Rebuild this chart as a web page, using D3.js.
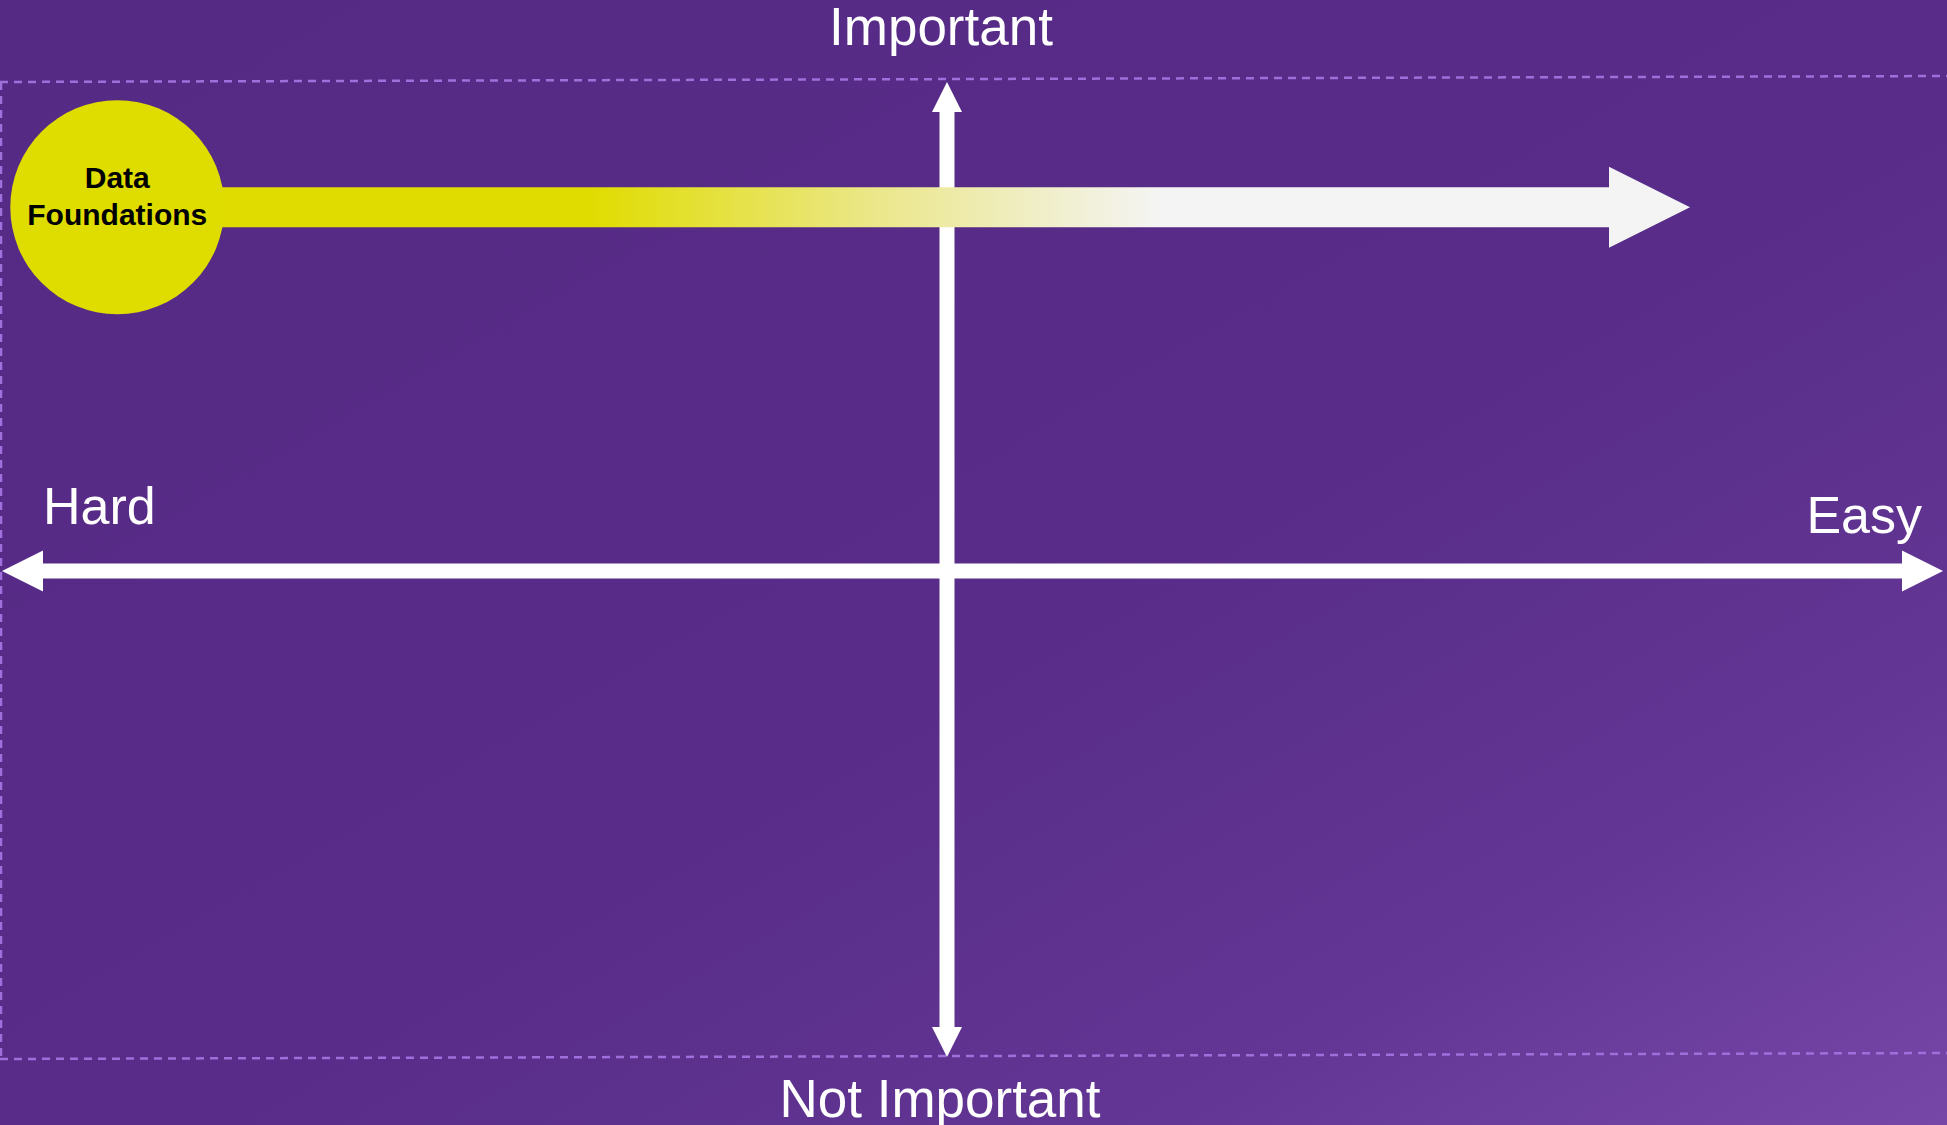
<!DOCTYPE html>
<html>
<head>
<meta charset="utf-8">
<script src="https://cdn.jsdelivr.net/npm/d3@7"></script>
<style>
  html, body { margin: 0; padding: 0; overflow: hidden; }
  svg { display: block; }
</style>
</head>
<body>
<svg id="chart"></svg>
<script>
// axis labels: [top, bottom, left, right]
const axisLabels = ['Important', 'Not Important', 'Hard', 'Easy'];
// initiatives on the matrix: ease (-1 hard .. 1 easy), importance (-1 .. 1)
const items = ['Data Foundations'];
const itemEase = [-0.878];
const itemImportance = [0.744];
const itemTargetEase = [0.746];

var width = 1947,
  height = 1125;

const svg = d3.select('#chart').attr('width', width).attr('height', height);

const defs = svg.append('defs');

// background gradient
const bg = defs.append('linearGradient').attr('id', 'bg')
  .attr('x1', 0).attr('y1', 0).attr('x2', 1).attr('y2', 1);
bg.append('stop').attr('offset', '0%').attr('stop-color', '#552a85');
bg.append('stop').attr('offset', '55%').attr('stop-color', '#582c88');
bg.append('stop').attr('offset', '80%').attr('stop-color', '#633695');
bg.append('stop').attr('offset', '100%').attr('stop-color', '#7747a8');

svg.append('rect').attr('width', width).attr('height', height).attr('fill', 'url(#bg)');

// scales: piecewise so the axes cross where the picture has them
const x = d3.scaleLinear().domain([-1, 0, 1]).range([2, 947, 1943]);
const y = d3.scaleLinear().domain([-1, 0, 1]).range([1057, 571, 82]);

// dashed frame (slightly tilted like the slide)
const frame = svg.append('g')
  .attr('stroke', '#9f70db')
  .attr('stroke-width', 2.5)
  .attr('stroke-dasharray', '8,6')
  .attr('fill', 'none');
frame.append('line').attr('x1', 0).attr('y1', y(1)).attr('x2', width).attr('y2', y(1) - 6);
frame.append('line').attr('x1', 0).attr('y1', y(-1) + 2).attr('x2', width).attr('y2', y(-1) - 4);
frame.append('line').attr('x1', 1).attr('y1', y(1)).attr('x2', 1).attr('y2', y(-1) + 2);

// axes as double headed arrows
const shaft = 15;
const vHead = 30, hHead = 41;
const cx = x(0), cy = y(0);

const axes = svg.append('g').attr('fill', '#ffffff');
// vertical
axes.append('rect')
  .attr('x', cx - shaft / 2).attr('y', y(1) + vHead - 1)
  .attr('width', shaft).attr('height', y(-1) - y(1) - 2 * vHead + 2);
axes.append('path').attr('d', d3.line()([
  [cx, y(1)], [cx + vHead / 2, y(1) + vHead], [cx - vHead / 2, y(1) + vHead]
]));
axes.append('path').attr('d', d3.line()([
  [cx, y(-1)], [cx + vHead / 2, y(-1) - vHead], [cx - vHead / 2, y(-1) - vHead]
]));
// horizontal
axes.append('rect')
  .attr('x', x(-1) + hHead - 1).attr('y', cy - shaft / 2)
  .attr('width', x(1) - x(-1) - 2 * hHead + 2).attr('height', shaft);
axes.append('path').attr('d', d3.line()([
  [x(-1), cy], [x(-1) + hHead, cy - hHead / 2], [x(-1) + hHead, cy + hHead / 2]
]));
axes.append('path').attr('d', d3.line()([
  [x(1), cy], [x(1) - hHead, cy - hHead / 2], [x(1) - hHead, cy + hHead / 2]
]));

// axis labels
const labels = svg.append('g')
  .attr('fill', '#ffffff')
  .style('font-family', '"Liberation Sans", Arial, sans-serif')
  .style('font-size', '53px');
labels.append('text').attr('x', cx - 6).attr('y', 45).attr('text-anchor', 'middle').text(axisLabels[0]);
labels.append('text').attr('x', cx - 7).attr('y', 1117).attr('text-anchor', 'middle').text(axisLabels[1]);
labels.append('text').attr('x', 43).attr('y', 524).style('font-size', '52px').text(axisLabels[2]);
labels.append('text').attr('x', 1922).attr('y', 533).attr('text-anchor', 'end').style('font-size', '52px').text(axisLabels[3]);

// item arrows
const grad = defs.append('linearGradient').attr('id', 'itemGrad')
  .attr('gradientUnits', 'userSpaceOnUse')
  .attr('x1', 590).attr('y1', 0).attr('x2', 1160).attr('y2', 0);
grad.append('stop').attr('offset', '0%').attr('stop-color', '#e0dc00');
grad.append('stop').attr('offset', '50%').attr('stop-color', '#ebe78a');
grad.append('stop').attr('offset', '100%').attr('stop-color', '#f4f4f4');

const barH = 40, headW = 81, headL = 81, r = 107;

const item = svg.selectAll('g.item')
  .data(items)
  .enter()
  .append('g')
  .attr('class', 'item');

item.append('path')
  .attr('fill', 'url(#itemGrad)')
  .attr('d', function (d, i) {
    const sx = x(itemEase[i]), ex = x(itemTargetEase[i]), yy = y(itemImportance[i]);
    return d3.line()([
      [sx, yy - barH / 2], [ex - headL, yy - barH / 2], [ex - headL, yy - headW / 2],
      [ex, yy], [ex - headL, yy + headW / 2], [ex - headL, yy + barH / 2], [sx, yy + barH / 2]
    ]) + 'Z';
  });

item.append('circle')
  .attr('cx', (d, i) => x(itemEase[i]))
  .attr('cy', (d, i) => y(itemImportance[i]))
  .attr('r', r)
  .attr('fill', '#dfdc00');

item.each(function (d, i) {
  const words = d.split(' ');
  const t = d3.select(this).append('text')
    .attr('text-anchor', 'middle')
    .attr('fill', '#000000')
    .style('font-family', '"Liberation Sans", Arial, sans-serif')
    .style('font-weight', 'bold')
    .style('font-size', '30px');
  words.forEach(function (w, k) {
    t.append('tspan')
      .attr('x', x(itemEase[i]))
      .attr('y', y(itemImportance[i]) - 19 + k * 37)
      .text(w);
  });
});
</script>
</body>
</html>
